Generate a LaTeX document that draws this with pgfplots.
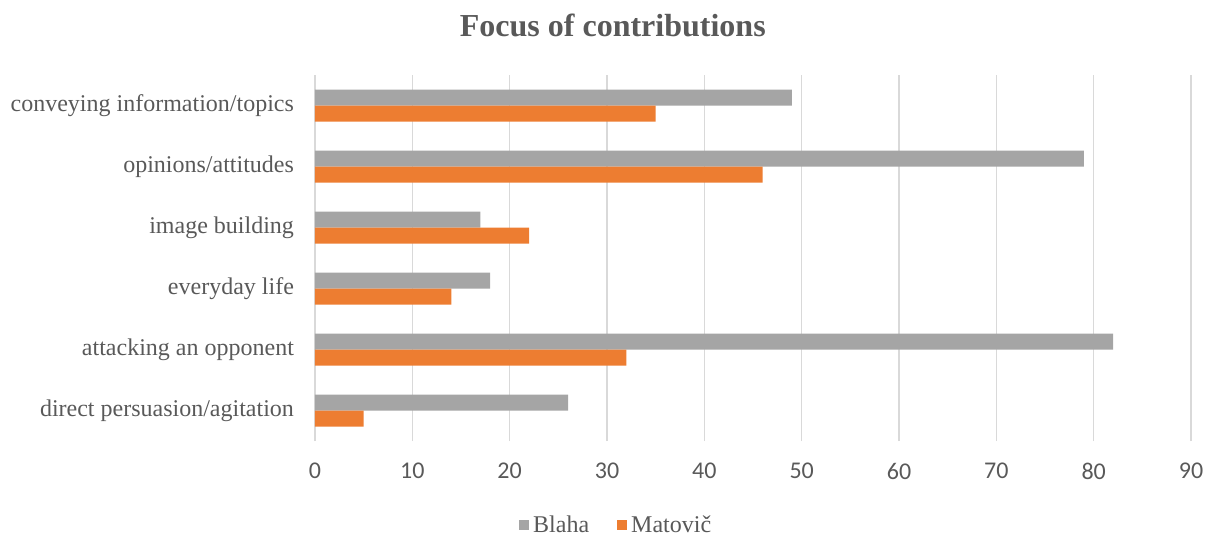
\documentclass[border=0pt]{standalone}
\usepackage{pgfplots}
\pgfplotsset{compat=1.18}
\usepackage{fontspec}
\setmainfont{Liberation Serif}
\newfontfamily\lserif{Liberation Serif}
\newfontfamily\carlito{Carlito}
\definecolor{blahagray}{HTML}{A5A5A5}
\definecolor{matorange}{HTML}{ED7D31}
\definecolor{gridgray}{HTML}{D9D9D9}
\definecolor{txtgray}{HTML}{595959}
\begin{document}
\begin{tikzpicture}
\useasboundingbox (-157.5pt,-47.5pt) rectangle (447.5pt,220.5pt);
\begin{axis}[
  at={(0,0)}, anchor=south west,
  scale only axis, width=438pt, height=183pt,
  xbar, bar width=8pt,
  xmin=0, xmax=90, xtick={0,10,...,90},
  ymin=-0.5, ymax=5.5, ytick={0,...,5},
  yticklabels={direct persuasion/agitation, attacking an opponent, everyday life~, image building~, opinions/attitudes, conveying information/topics},
  axis line style={draw=none}, major tick length=0pt,
  xmajorgrids, grid style={draw=gridgray, line width=0.75pt},
  /pgf/number format/assume math mode=true,
  xticklabel style={font=\carlito\fontsize{12}{14}\selectfont, text=txtgray, anchor=north, yshift=-7.5pt},
  yticklabel style={font=\lserif\fontsize{12}{14}\selectfont, text=txtgray, anchor=east, xshift=-7pt},
  title={Focus of contributions},
  title style={font=\lserif\bfseries\fontsize{16}{19}\selectfont, text=txtgray, at={(rel axis cs:0.34,1.104)}, anchor=center},
  legend style={at={(rel axis cs:0.345,-0.23)}, anchor=center, draw=none, legend columns=2,
    font=\lserif\fontsize{12}{14}\selectfont, text=txtgray,
    /tikz/every even column/.append style={column sep=12pt}},
  legend image code/.code={\fill (0pt,-2.5pt) rectangle (5pt,2.5pt);},
]
\addplot[fill=blahagray, draw=none, bar shift=4pt] coordinates {(26,0) (82,1) (18,2) (17,3) (79,4) (49,5)};
\addlegendentry{\lserif Blaha}
\addplot[fill=matorange, draw=none, bar shift=-4pt] coordinates {(5,0) (32,1) (14,2) (22,3) (46,4) (35,5)};
\addlegendentry{\lserif Matovič}
\end{axis}
\end{tikzpicture}
\end{document}
